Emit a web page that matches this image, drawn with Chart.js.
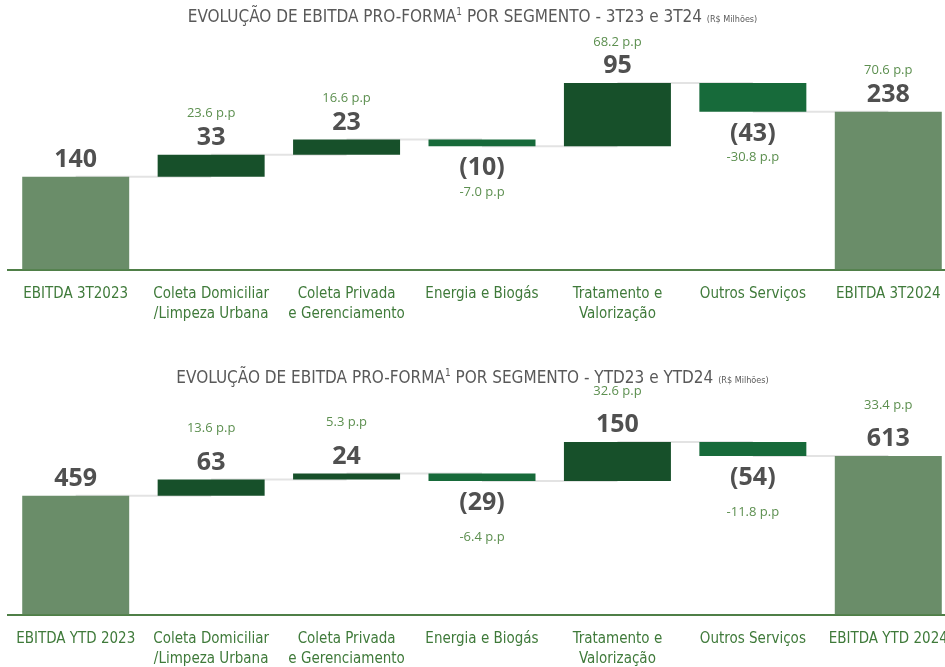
<!DOCTYPE html>
<html lang="pt-BR">
<head>
    <meta charset="UTF-8">
    <title>Evolução de EBITDA Pro-forma por Segmento</title>
    <script src="https://cdn.jsdelivr.net/npm/chart.js"></script>
    <style>
        html, body {
            margin: 0;
            padding: 0;
            width: 945px;
            height: 667px;
            overflow: hidden;
            background: #fff;
        }
        .title {
            position: absolute;
            left: 0;
            width: 945px;
            text-align: center;
            font-family: "DejaVu Sans Condensed", sans-serif;
            font-size: 17px;
            color: #595959;
            white-space: nowrap;
        }
        .title sup { font-size: 10px; }
        .title small { font-size: 9px; }
        .box {
            position: absolute;
            left: 0;
            width: 960px;
            height: 330px;
        }
    </style>
</head>
<body>

<div class="box" style="top:0px"><canvas id="chart3t"></canvas></div>
<div class="box" style="top:345px"><canvas id="chartYtd"></canvas></div>
<div class="title" style="top:6px">EVOLUÇÃO DE EBITDA PRO-FORMA<sup>1</sup> POR SEGMENTO - 3T23 e 3T24 <small>(R$ Milhões)</small></div>
<div class="title" style="top:367px">EVOLUÇÃO DE EBITDA PRO-FORMA<sup>1</sup> POR SEGMENTO - YTD23 e YTD24 <small>(R$ Milhões)</small></div>

<script>
    // Categories (multi-line tick labels)
    const labels3t = ['EBITDA 3T2023', ['Coleta Domiciliar', '/Limpeza Urbana'], ['Coleta Privada', 'e Gerenciamento'],
        'Energia e Biogás', ['Tratamento e', 'Valorização'], 'Outros Serviços', 'EBITDA 3T2024'];
    const labelsYtd = ['EBITDA YTD 2023', ['Coleta Domiciliar', '/Limpeza Urbana'], ['Coleta Privada', 'e Gerenciamento'],
        'Energia e Biogás', ['Tratamento e', 'Valorização'], 'Outros Serviços', 'EBITDA YTD 2024'];

    // Values (R$ milhões): first and last are totals, the rest are variations
    const values3t = [140, 33, 23, -10, 95, -43, 238];
    const valuesYtd = [459, 63, 24, -29, 150, -54, 613];

    // Margin variation labels
    const pp3t = ['', '23.6 p.p', '16.6 p.p', '-7.0 p.p', '68.2 p.p', '-30.8 p.p', '70.6 p.p'];
    const ppYtd = ['', '13.6 p.p', '5.3 p.p', '-6.4 p.p', '32.6 p.p', '-11.8 p.p', '33.4 p.p'];

    const totalColor = '#6a8d69';
    const upColor = '#17502a';
    const downColor = '#176a3a';

    function waterfall(values) {
        const ranges = [];
        let run = 0;
        values.forEach((v, i) => {
            if (i === 0 || i === values.length - 1) {
                ranges.push([0, v]);
                run = v;
            } else {
                ranges.push([run, run + v]);
                run += v;
            }
        });
        return ranges;
    }

    function fmt(v) {
        return v < 0 ? '(' + Math.abs(v) + ')' : String(v);
    }

    // connectors + value labels
    const waterfallPlugin = {
        id: 'waterfallPlugin',
        beforeDatasetsDraw(chart) {
            const ctx = chart.ctx;
            const meta = chart.getDatasetMeta(0);
            const ranges = chart.data.datasets[0].data;
            const y = chart.scales.y;
            ctx.save();
            ctx.strokeStyle = '#e3e3e3';
            ctx.lineWidth = 2;
            for (let i = 0; i < ranges.length - 1; i++) {
                const level = y.getPixelForValue(ranges[i][1]);
                ctx.beginPath();
                ctx.moveTo(meta.data[i].x, level);
                ctx.lineTo(meta.data[i + 1].x, level);
                ctx.stroke();
            }
            ctx.restore();
        },
        afterDatasetsDraw(chart, args, opts) {
            const ctx = chart.ctx;
            const meta = chart.getDatasetMeta(0);
            const ranges = chart.data.datasets[0].data;
            const y = chart.scales.y;
            ctx.save();
            ctx.textAlign = 'center';
            ctx.textBaseline = 'middle';
            ranges.forEach((r, i) => {
                const v = opts.values[i];
                const x = meta.data[i].x;
                const top = y.getPixelForValue(Math.max(r[0], r[1]));
                const bottom = y.getPixelForValue(Math.min(r[0], r[1]));
                let vy, py;
                if (v >= 0) {
                    vy = top - 17;
                    py = vy - opts.gap;
                } else {
                    vy = bottom + 22;
                    py = vy + opts.gap;
                }
                ctx.font = 'bold 25px "Open Sans", sans-serif';
                ctx.fillStyle = '#505050';
                ctx.fillText(fmt(v), x, vy);
                if (opts.pp[i]) {
                    ctx.font = '13px "Open Sans", sans-serif';
                    ctx.fillStyle = '#5c8f4f';
                    ctx.fillText(opts.pp[i], x, py);
                }
            });
            ctx.restore();
        }
    };

    function makeChart(id, labels, values, pp, yMax, gap) {
        const colors = values.map((v, i) => {
            if (i === 0 || i === values.length - 1) return totalColor;
            return v >= 0 ? upColor : downColor;
        });
        return new Chart(document.getElementById(id), {
            type: 'bar',
            data: {
                labels: labels,
                datasets: [{
                    data: waterfall(values),
                    backgroundColor: colors,
                    borderSkipped: false,
                    barPercentage: 0.79,
                    categoryPercentage: 1.0
                }]
            },
            options: {
                responsive: true,
                maintainAspectRatio: false,
                animation: false,
                layout: { padding: { top: 40, left: 8, right: 4, bottom: 0 } },
                plugins: {
                    legend: { display: false },
                    tooltip: { enabled: false },
                    waterfallPlugin: { values: values, pp: pp, gap: gap }
                },
                scales: {
                    x: {
                        grid: { display: false },
                        border: { display: true, color: '#4f7f47', width: 2 },
                        ticks: {
                            color: '#3f7a3a',
                            font: { family: '"DejaVu Sans Condensed", sans-serif', size: 15, lineHeight: 1.35 },
                            maxRotation: 0,
                            autoSkip: false,
                            padding: 6
                        }
                    },
                    y: {
                        display: false,
                        min: 0,
                        max: yMax
                    }
                }
            },
            plugins: [waterfallPlugin]
        });
    }

    makeChart('chart3t', labels3t, values3t, pp3t, 346, 24);
    makeChart('chartYtd', labelsYtd, valuesYtd, ppYtd, 888, 34);
</script>

</body>
</html>
